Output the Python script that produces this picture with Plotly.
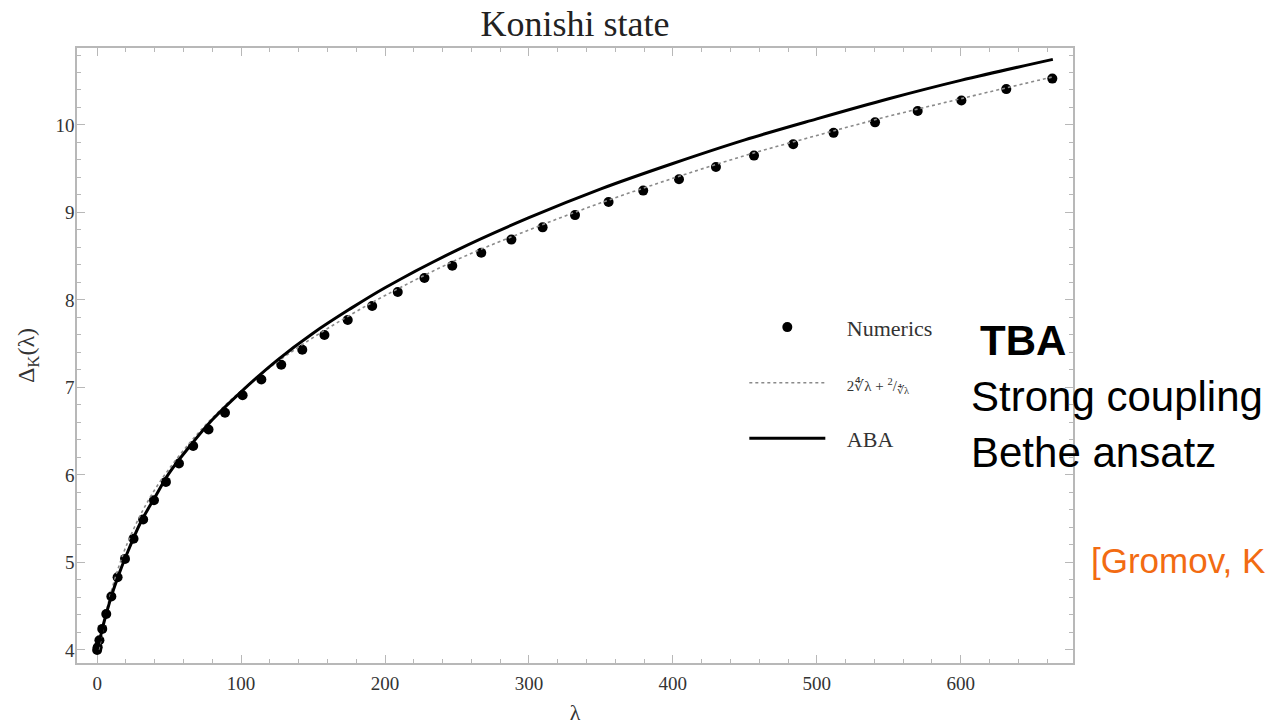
import plotly.graph_objects as go

# Numerics
lam_num = [0, 0.39, 1.58, 3.55, 6.32, 9.87, 14.21, 19.34, 25.27, 31.98, 39.48, 47.77,
           56.85, 66.72, 77.38, 88.83, 101.06, 114.09, 127.91, 142.52, 157.91, 174.10,
           191.08, 208.84, 227.40, 246.74, 266.87, 287.80, 309.51, 332.02, 355.31,
           379.39, 404.26, 429.92, 456.37, 483.61, 511.64, 540.46, 570.07, 600.47,
           631.65, 663.63]
delta_num = [4.00, 4.03, 4.11, 4.24, 4.41, 4.61, 4.83, 5.04, 5.27, 5.49, 5.71, 5.92,
             6.13, 6.33, 6.52, 6.71, 6.91, 7.09, 7.26, 7.43, 7.60, 7.77, 7.93, 8.09,
             8.25, 8.39, 8.54, 8.69, 8.83, 8.97, 9.12, 9.25, 9.38, 9.52, 9.65, 9.78,
             9.91, 10.03, 10.16, 10.28, 10.41, 10.53]

# Strong coupling curve
lam_sc = [1, 2, 4, 6, 10, 15, 20, 30, 40, 50, 65, 80, 100, 125, 150, 175, 200, 250,
          300, 350, 400, 450, 500, 550, 600, 664]
delta_sc = [4.00, 4.06, 4.24, 4.41, 4.68, 4.95, 5.18, 5.54, 5.83, 6.07, 6.38, 6.65,
            6.96, 7.29, 7.57, 7.82, 8.05, 8.46, 8.80, 9.11, 9.39, 9.65, 9.88, 10.10,
            10.30, 10.55]

# ABA curve
lam_aba = [0, 2, 4, 7, 10, 15, 20, 30, 40, 50, 65, 80, 100, 125, 150, 175, 200, 250,
           300, 350, 400, 450, 500, 550, 600, 664]
delta_aba = [4.00, 4.13, 4.27, 4.45, 4.62, 4.86, 5.07, 5.45, 5.74, 6.02, 6.34, 6.63,
             6.95, 7.31, 7.62, 7.89, 8.14, 8.57, 8.94, 9.27, 9.56, 9.83, 10.07, 10.30,
             10.51, 10.75]

x_ticks = [0, 100, 200, 300, 400, 500, 600]
y_ticks = [4, 5, 6, 7, 8, 9, 10]

serif = "Liberation Serif, Times New Roman, serif"
sans = "Liberation Sans, Arial, sans-serif"
frame = "#b8b8b8"
pad = "\u00a0\u00a0\u00a0"

fig = go.Figure()
fig.add_trace(go.Scatter(
    x=lam_num, y=delta_num, mode="markers", name=pad + "Numerics",
    marker=dict(color="black", size=10), legendgroup="a"))
fig.add_trace(go.Scatter(
    x=lam_sc, y=delta_sc, mode="lines",
    name=pad + "<span style='font-size:15px'>2∜λ + <sup>2</sup>/<sub>∜λ</sub></span>",
    line=dict(color="#8a8a8a", width=1.6, dash="dot", shape="spline"),
    legendgroup="b"))
fig.add_trace(go.Scatter(
    x=lam_aba, y=delta_aba, mode="lines", name=pad + "ABA",
    line=dict(color="black", width=3, shape="spline"), legendgroup="c"))

axis_common = dict(
    showline=True, linecolor=frame, linewidth=1.5, mirror="ticks",
    ticks="inside", ticklen=8, tickcolor=frame, tickwidth=1.2,
    showgrid=False, zeroline=False, automargin=False,
    tickfont=dict(family=serif, size=19, color="#333333"),
)

fig.update_xaxes(
    range=[-14, 678], tickvals=x_ticks, ticklabelstandoff=2,
    minor=dict(dtick=20, ticks="inside", ticklen=4, tickcolor=frame, showgrid=False),
    title=dict(text="λ", font=dict(family=serif, size=22, color="#333333"), standoff=20),
    **axis_common)
fig.update_yaxes(
    range=[3.85, 10.88], tickvals=y_ticks, ticklabelstandoff=-3,
    minor=dict(dtick=0.2, ticks="inside", ticklen=4, tickcolor=frame, showgrid=False),
    title=dict(text="Δ<sub>K</sub>(λ)", font=dict(family=serif, size=24, color="#333333"),
               standoff=14),
    **axis_common)

W, H = 1268, 725
l, r, t, b = 77, 195, 48, 62
pw, ph = W - l - r, H - t - b

fig.update_layout(
    width=W, height=H,
    margin=dict(l=l, r=r, t=t, b=b, autoexpand=False),
    paper_bgcolor="white", plot_bgcolor="white",
    title=dict(text="Konishi state", x=0.4535, xanchor="center", y=0.968, yanchor="middle",
               font=dict(family=serif, size=36, color="#222222")),
    showlegend=True,
    legend=dict(x=0.670, y=0.58, xanchor="left", yanchor="top",
                bgcolor="rgba(255,255,255,0)", traceorder="grouped",
                tracegroupgap=24, itemwidth=76,
                font=dict(family=serif, size=22, color="#333333")),
)

# side texts placed by pixel position, converted to paper coordinates
side_texts = [
    ("<b>TBA</b>", 978, 340, 42, "black"),
    ("Strong coupling", 969, 396, 42, "black"),
    ("Bethe ansatz", 969, 452, 42, "black"),
    ("[Gromov, K", 1089, 560, 35, "#F26B12"),
]
for txt, px, py, fs, col in side_texts:
    fig.add_annotation(text=txt, x=(px - l) / pw, y=(H - b - py) / ph,
                       xref="paper", yref="paper", showarrow=False,
                       xanchor="left", yanchor="middle",
                       font=dict(family=sans, size=fs, color=col))

fig.write_html("out.html", config={"displayModeBar": False},
               post_script="document.body.style.margin='0';")
